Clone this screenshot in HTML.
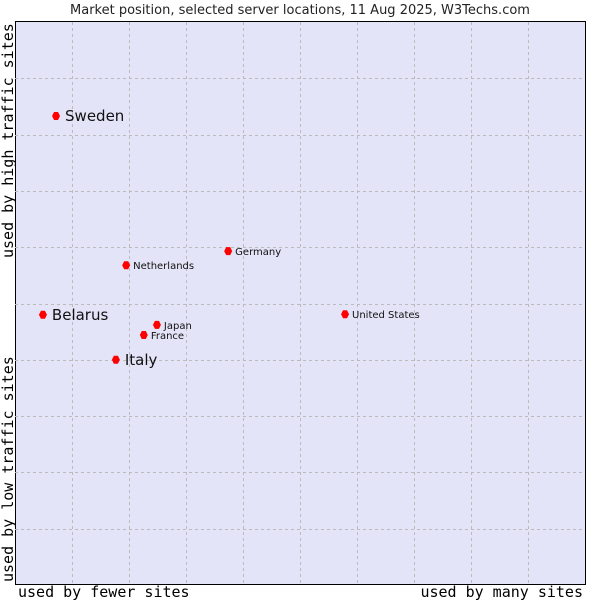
<!DOCTYPE html>
<html><head><meta charset="utf-8"><style>
body{margin:0;background:#fff;width:600px;height:600px;overflow:hidden}
svg{display:block}
</style></head><body>
<svg id="chart" width="600" height="600">
<text x="300" y="14" text-anchor="middle" font-family="DejaVu Sans, sans-serif" font-size="13" fill="#222">Market position, selected server locations, 11 Aug 2025, W3Techs.com</text>
<rect x="15.5" y="21.5" width="570" height="563" fill="#e4e4f8" stroke="#000"/>
<g id="grid"></g>
<g id="points"></g>
<text transform="translate(13,258) rotate(-90)" font-family="DejaVu Sans Mono, monospace" font-size="15" fill="#000">used by high traffic sites</text>
<text transform="translate(13,582) rotate(-90)" font-family="DejaVu Sans Mono, monospace" font-size="15" fill="#000">used by low traffic sites</text>
<text x="18" y="597" font-family="DejaVu Sans Mono, monospace" font-size="15" fill="#000">used by fewer sites</text>
<text x="583" y="597" text-anchor="end" font-family="DejaVu Sans Mono, monospace" font-size="15" fill="#000">used by many sites</text>
</svg>
<script>
const countries=["Sweden","Belarus","Italy","Netherlands","Germany","Japan","France","United States"];
const xValues=[7.2,4.9,17.7,19.5,37.4,24.9,22.6,57.9];
const yValues=[83.3,48.0,40.0,56.8,59.3,46.2,44.4,48.1];
const bigLabel=[true,true,true,false,false,false,false,false];
const NS="http://www.w3.org/2000/svg";
const X0=15,X1=585,Y0=585,Y1=22;
function sx(v){return X0+v/100*(X1-X0);}
function sy(v){return Y0-v/100*(Y0-Y1);}
const grid=document.getElementById('grid');
for(let i=1;i<10;i++){
  const gx=document.createElementNS(NS,'line');
  
  
  const x=Math.round(sx(i*10))+0.5;
  gx.setAttribute('x1',x);gx.setAttribute('x2',x);gx.setAttribute('y1',Y1);gx.setAttribute('y2',Y0);
  gx.setAttribute('stroke','#bbb');gx.setAttribute('stroke-dasharray','3,3');
  grid.appendChild(gx);
  const gy=document.createElementNS(NS,'line');
  
  
  const y=Math.round(sy(i*10))+0.5;
  gy.setAttribute('y1',y);gy.setAttribute('y2',y);gy.setAttribute('x1',X0);gy.setAttribute('x2',X1);
  gy.setAttribute('stroke','#bbb');gy.setAttribute('stroke-dasharray','3,3');
  grid.appendChild(gy);
}
const pts=document.getElementById('points');
countries.forEach((c,i)=>{
  const x=sx(xValues[i]),y=sy(yValues[i]);
  const p=document.createElementNS(NS,'path');
  
  
  p.setAttribute('d',`M${x-4},${y}L${x-2},${y-4}L${x+2},${y-4}L${x+4},${y}L${x+2},${y+4}L${x-2},${y+4}Z`);
  p.setAttribute('fill','#f00');
  pts.appendChild(p);
  const t=document.createElementNS(NS,'text');
  
  
  t.setAttribute('x',x+(bigLabel[i]?9:7));
  t.setAttribute('y',y+(bigLabel[i]?5:4));
  t.setAttribute('font-family','DejaVu Sans, sans-serif');
  t.setAttribute('font-size',bigLabel[i]?15:10);
  t.setAttribute('fill','#111');
  t.textContent=c;
  pts.appendChild(t);
});
</script>
</body></html>
